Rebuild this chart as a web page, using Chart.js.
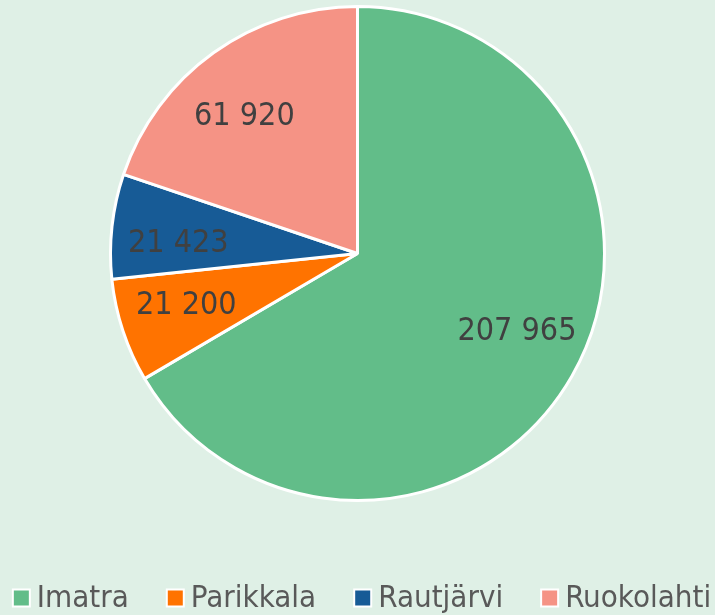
<!DOCTYPE html>
<html><head><meta charset="utf-8">
<script src="https://cdn.jsdelivr.net/npm/chart.js@4/dist/chart.umd.min.js"></script>
<style>html,body{margin:0;padding:0;background:#dff0e6;}#wrap{width:715px;height:615px;}</style>
</head><body><div id="wrap"><canvas id="c" width="715" height="615"></canvas></div>
<script>
const categories = ["Imatra", "Parikkala", "Rautjärvi", "Ruokolahti"];
const values = [207965, 21200, 21423, 61920];
const colors = ["#62bd89", "#ff7300", "#175b96", "#f59385"];

const FONT = "'DejaVu Sans Condensed', 'DejaVu Sans', Verdana, sans-serif";
function fmt(v){ return String(v).replace(/\B(?=(\d{3})+(?!\d))/g, " "); }

const labelPlugin = {
  id: "sliceLabels",
  afterDatasetsDraw(chart, args, opts){
    const ctx = chart.ctx;
    const meta = chart.getDatasetMeta(0);
    const nudges = opts.nudges || [];
    ctx.save();
    ctx.font = "32px " + FONT;
    ctx.fillStyle = "#404040";
    ctx.textAlign = "center";
    ctx.textBaseline = "middle";
    meta.data.forEach((arc, i) => {
      const p = arc.getProps(["x","y","startAngle","endAngle","outerRadius"], true);
      const mid = (p.startAngle + p.endAngle)/2;
      const r = p.outerRadius * 0.73;
      const n = nudges[i] || [0,0];
      ctx.fillText(fmt(chart.data.datasets[0].data[i]), p.x + Math.cos(mid)*r + n[0], p.y + Math.sin(mid)*r + n[1]);
    });
    ctx.restore();
  }
};

const legendPlugin = {
  id: "customLegend",
  afterDraw(chart){
    const ctx = chart.ctx;
    const labels = chart.data.labels;
    const cols = chart.data.datasets[0].backgroundColor;
    ctx.save();
    ctx.font = "31px " + FONT;
    ctx.textBaseline = "middle";
    const box = 15, gapBT = 8, gapItem = 39;
    const widths = labels.map(l => ctx.measureText(l).width);
    let total = widths.reduce((a,b)=>a+b,0) + labels.length*(box+gapBT) + (labels.length-1)*gapItem;
    let x = (chart.width - total)/2 + 5;
    const y = 598;
    labels.forEach((l, i) => {
      ctx.fillStyle = "#ffffff";
      ctx.fillRect(x-2, y-box/2-2, box+4, box+4);
      ctx.fillStyle = cols[i];
      ctx.fillRect(x, y-box/2, box, box);
      ctx.fillStyle = "#595959";
      ctx.textAlign = "left";
      ctx.fillText(l, x + box + gapBT, y + 1);
      x += box + gapBT + widths[i] + gapItem;
    });
    ctx.restore();
  }
};

new Chart(document.getElementById("c"), {
  type: "pie",
  data: {
    labels: categories,
    datasets: [{ data: values, backgroundColor: colors, borderColor: "#ffffff", borderWidth: 3 }]
  },
  options: {
    responsive: false,
    animation: false,
    layout: { padding: { top: 5, bottom: 113, left: 0, right: 0 } },
    plugins: {
      tooltip: { enabled: false },
      legend: { display: false },
      sliceLabels: { nudges: [[3,-11],[0,-4],[0,10],[-8,10]] }
    }
  },
  plugins: [labelPlugin, legendPlugin]
});
</script></body></html>
